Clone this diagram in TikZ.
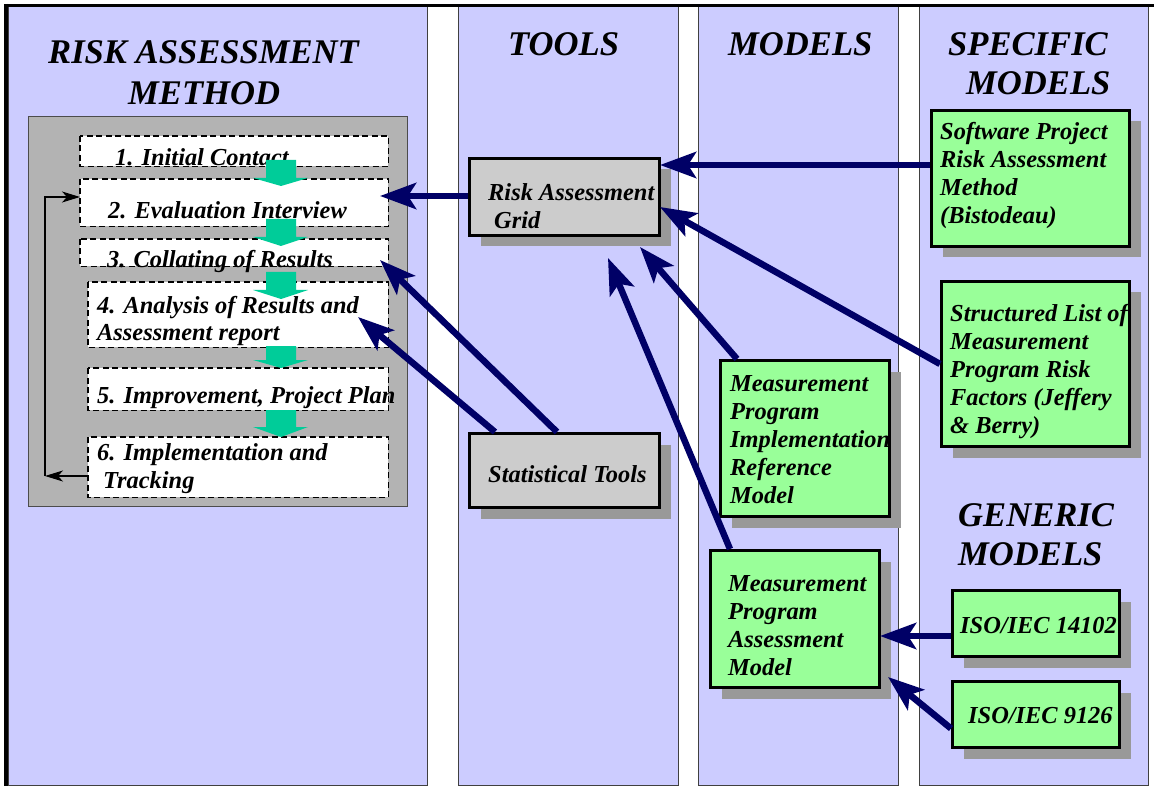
\documentclass[tikz,border=0pt]{standalone}
\usepackage{fontspec}
\setmainfont{Liberation Serif}
\usetikzlibrary{arrows.meta,shadows}
\definecolor{lav}{HTML}{CCCCFF}
\definecolor{navyarr}{HTML}{000066}
\definecolor{boxgreen}{HTML}{99FF99}
\definecolor{flowgreen}{HTML}{00CC99}
\definecolor{toolgray}{HTML}{CCCCCC}
\definecolor{shadegray}{HTML}{999999}
\definecolor{panelgray}{HTML}{B3B3B3}
\begin{document}
\begin{tikzpicture}[x=1pt,y=-1pt,
  colbox/.style={fill=lav,draw=black!75,line width=1pt},
  hd/.style={font=\fontsize{34.6}{40}\selectfont\bfseries\itshape,inner sep=0pt,anchor=base west,align=left},
  txt/.style={font=\fontsize{24.4}{28}\selectfont\bfseries\itshape,inner sep=0pt,anchor=base west,align=left},
  stepbox/.style={fill=white,inner sep=0pt,anchor=north west},
  stepline/.style={draw=black,line width=1.5pt,dash pattern=on 6pt off 3.5pt},
  boxshadow/.style={drop shadow={shadow xshift=11pt,shadow yshift=-11pt,fill=shadegray,opacity=1}},
  toolbox/.style={fill=toolgray,draw=black,line width=3pt,inner sep=0pt,anchor=north west,boxshadow},
  modelbox/.style={fill=boxgreen,draw=black,line width=3pt,inner sep=0pt,anchor=north west,boxshadow},
  link/.style={draw=navyarr,line width=6.5pt,-{Stealth[length=36pt,width=26pt,inset=8pt]}},
  loopline/.style={draw=black,line width=1.3pt,-{Stealth[length=18pt,width=11pt,inset=5pt]}},
  flow/.style={fill=flowgreen}
]
\useasboundingbox (0,0) rectangle (1154,786);

% the four column panels and the outer frame
\draw[colbox] (8,7) rectangle (427,785.5);
\draw[colbox] (458,7) rectangle (678,785.5);
\draw[colbox] (698,7) rectangle (898,785.5);
\draw[colbox] (919,7) rectangle (1148,785.5);
\draw[line width=3pt] (4,5.5) -- (1154,5.5);
\draw[line width=4pt] (6,4) -- (6,786);

% column headings
\node[hd] (hmethodA) at (48,64) {RISK ASSESSMENT};
\node[hd] (hmethodB) at (128,105) {METHOD};
\node[hd] (htools) at (508,56) {TOOLS};
\node[hd] (hmodels) at (728,56) {MODELS};
\node[hd] (hspecA) at (948,56) {SPECIFIC};
\node[hd] (hspecB) at (966,95) {MODELS};
\node[hd] (hgenA) at (958,526) {GENERIC};
\node[hd] (hgenB) at (958,565) {MODELS};

% method panel with its six steps
\node[draw=black!70,fill=panelgray,line width=1.2pt,inner sep=0pt,anchor=north west,
      minimum width=379pt,minimum height=390pt] (panel) at (28,116) {};
\node[stepbox,minimum width=308pt,minimum height=30pt] (s1) at (80,136) {};
\node[stepbox,minimum width=308pt,minimum height=47pt] (s2) at (80,179) {};
\node[stepbox,minimum width=308pt,minimum height=27pt] (s3) at (80,239) {};
\node[stepbox,minimum width=300pt,minimum height=65pt] (s4) at (88,282) {};
\node[stepbox,minimum width=300pt,minimum height=42pt] (s5) at (88,368) {};
\node[stepbox,minimum width=300pt,minimum height=60pt] (s6) at (88,437) {};

% (multi-line texts are placed by the baseline of their last line)
\node[txt] (t1) at (115,166) {1. Initial Contact};
\node[txt] (t2) at (108,219) {2. Evaluation Interview};
\node[txt] (t3) at (107,268) {3. Collating of Results};
\node[txt] (t4) at (97,341) {4. Analysis of Results and\\Assessment report};
\node[txt] (t5) at (97,403) {5. Improvement, Project Plan};
\node[txt] (t6) at (97,488) {6. Implementation and\\\hspace*{6pt}Tracking};

\foreach \s in {s1,s2,s3,s4,s5,s6}
  \draw[stepline] (\s.north west) rectangle (\s.south east);

% green flow arrows between the steps
\foreach \a/\b/\c in {160/178/186,219/237/246,272/290/299,346/360/368,410/427/437}
  \fill[flow] (266,\a) -- (296,\a) -- (296,\b) -- (308,\b) -- (281,\c)
              -- (253,\b) -- (266,\b) -- cycle;

% feedback loop from step 6 back to step 2
\coordinate (fbB) at (45,476);
\coordinate (fbT) at (45,197);
\draw[loopline] (s6.west |- fbB) -- (fbB);
\draw[loopline] (fbB) -- (fbT) -- (s2.west |- fbT);

% tools
\node[toolbox,minimum width=190pt,minimum height=77pt] (rag) at (468,157) {};
\node[txt] (trag) at (488,229) {Risk Assessment\\\hspace*{6pt}Grid};
\node[toolbox,minimum width=190pt,minimum height=74pt] (stat) at (468,432) {};
\node[txt] (tstat) at (488,482) {Statistical Tools};

% models
\node[modelbox,minimum width=169pt,minimum height=156pt] (mpirm) at (719,359) {};
\node[txt] (tmpirm) at (730,503) {Measurement\\Program\\Implementation\\Reference\\Model};
\node[modelbox,minimum width=169pt,minimum height=137pt] (mpam) at (709,549) {};
\node[txt] (tmpam) at (728,675) {Measurement\\Program\\Assessment\\Model};

% specific models
\node[modelbox,minimum width=198pt,minimum height=136pt] (spram) at (930,109) {};
\node[txt] (tspram) at (940,224) {Software Project\\Risk Assessment\\Method\\(Bistodeau)};
\node[modelbox,minimum width=188pt,minimum height=165pt] (slmprf) at (940,280) {};
\node[txt] (tslmprf) at (950,433) {Structured List of\\Measurement\\Program Risk\\Factors (Jeffery\\\& Berry)};

% generic models
\node[modelbox,minimum width=167pt,minimum height=66pt] (iso1) at (951,589) {};
\node[txt] (tiso1) at (960,633) {ISO/IEC 14102};
\node[modelbox,minimum width=167pt,minimum height=66pt] (iso2) at (951,680) {};
\node[txt] (tiso2) at (968,723) {ISO/IEC 9126};

% links between the columns
\coordinate (a1) at (660,165);
\coordinate (a2) at (380,196);
\coordinate (a3) at (660,207);
\coordinate (a4) at (640,247);
\coordinate (a5) at (608,258);
\coordinate (a6) at (358,317);
\coordinate (a7) at (380,260);
\coordinate (a8) at (880,636);
\coordinate (a9) at (888,677);
\draw[link] (spram.west |- a1) -- (a1);
\draw[link] (rag.west |- a2) -- (a2);
\draw[link] (slmprf.west) -- (a3);
\draw[link] ([xshift=18pt]mpirm.north west) -- (a4);
\draw[link] ([xshift=21pt]mpam.north west) -- (a5);
\draw[link] ([xshift=27pt]stat.north west) -- (a6);
\draw[link] ([xshift=89pt]stat.north west) -- (a7);
\draw[link] (iso1.west |- a8) -- (a8);
\draw[link] ([yshift=-14pt]iso2.west) -- (a9);
\end{tikzpicture}
\end{document}
